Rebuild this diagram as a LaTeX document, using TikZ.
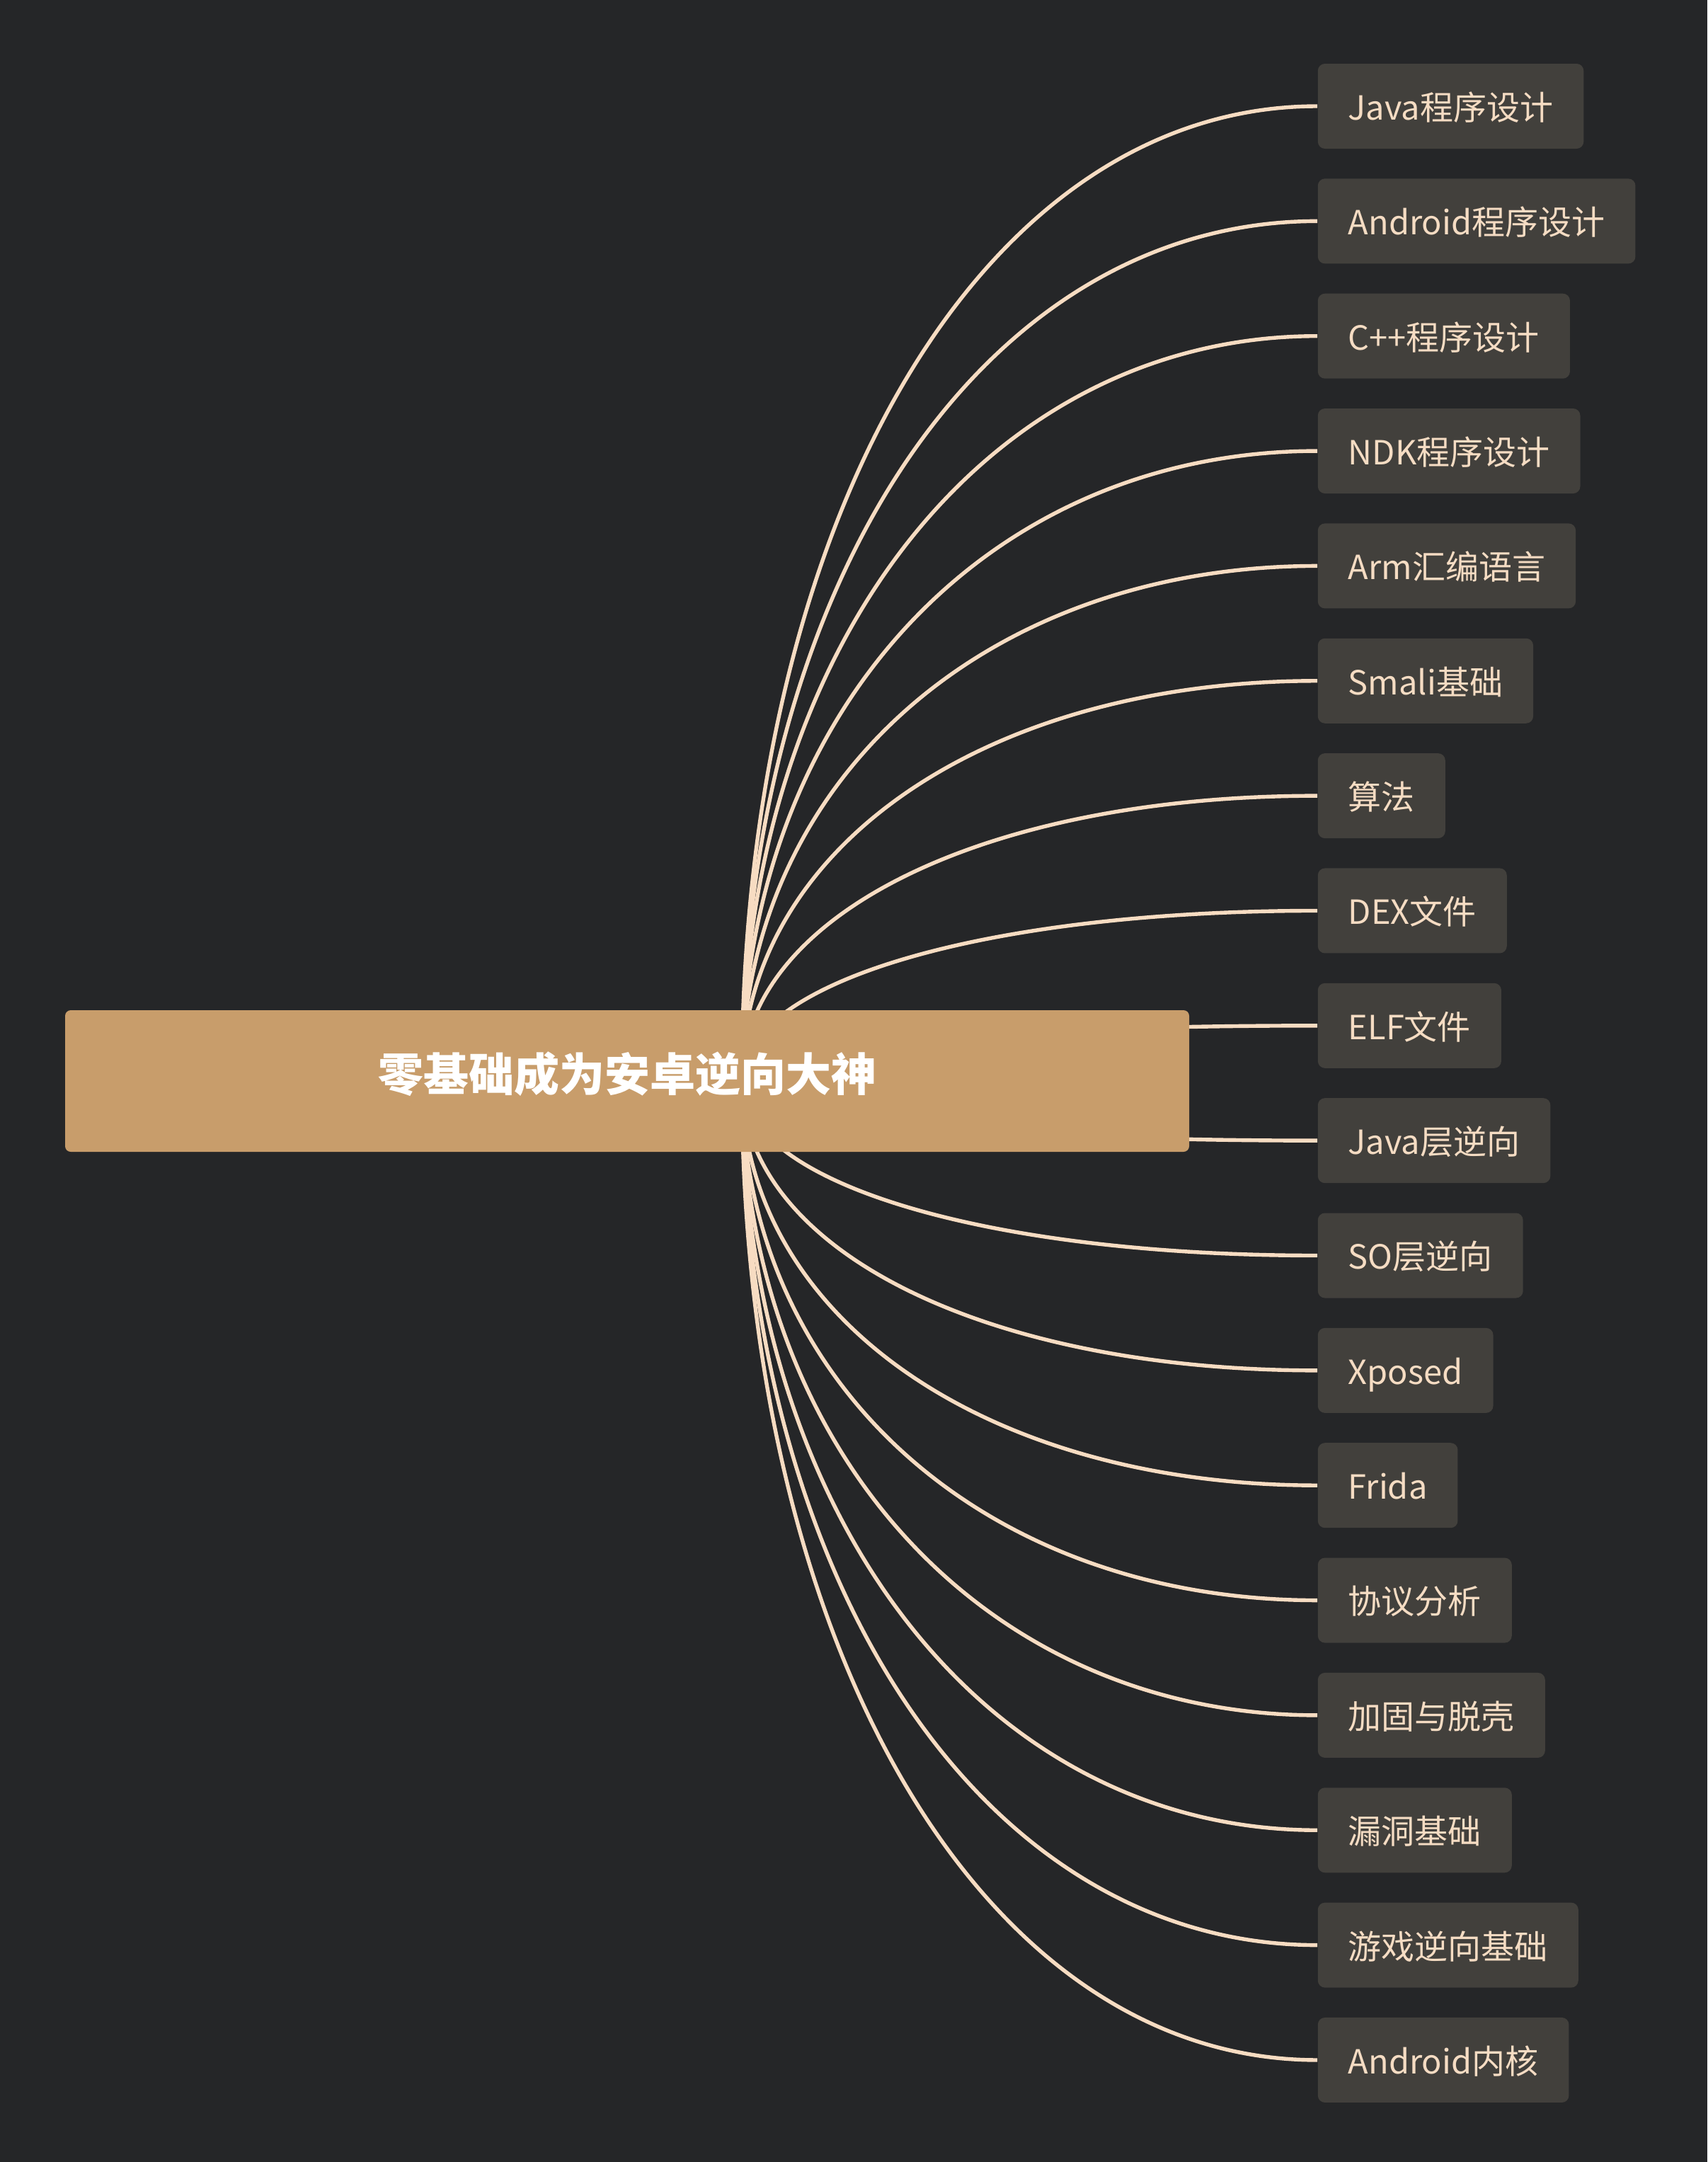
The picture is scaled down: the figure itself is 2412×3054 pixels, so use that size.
\documentclass[tikz,border=0pt]{standalone}
\usepackage{fontspec}
\setmainfont{Noto Sans CJK SC}
\usetikzlibrary{calc}
\pgfdeclarelayer{background}
\pgfsetlayers{background,main}
\definecolor{bgc}{HTML}{252628}
\definecolor{leafc}{HTML}{42403C}
\definecolor{leaftext}{HTML}{F5DCC3}
\definecolor{linec}{HTML}{F7DCC2}
\definecolor{rootc}{HTML}{C89D6B}
\tikzset{
  rootbox/.style={fill=rootc, rounded corners=2pt, minimum width=397pt, minimum height=50pt,
    text=white, font=\fontsize{16pt}{19pt}\selectfont\bfseries, inner sep=0pt,
    text height=0.86em, text depth=0.14em},
  leafbox/.style={fill=leafc, rounded corners=2.5pt, anchor=west, text=leaftext,
    font=\fontsize{11.75pt}{14pt}\selectfont, inner xsep=10.75pt, inner ysep=0pt,
    minimum height=30pt, text height=0.98em, text depth=0.01em},
  conn/.style={draw=linec, line width=1.35pt}
}
\begin{document}
\begin{tikzpicture}[x=0.25pt,y=-0.25pt]
\useasboundingbox (0,0) rectangle (2412,3054);
\node[rootbox] (root) at (886,1527) {零基础成为安卓逆向大神};
\coordinate (hub) at (1048,1527);
\foreach \t [count=\i from 0] in {Java程序设计,Android程序设计,C++程序设计,NDK程序设计,Arm汇编语言,Smali基础,算法,DEX文件,ELF文件,Java层逆向,SO层逆向,Xposed,Frida,协议分析,加固与脱壳,漏洞基础,游戏逆向基础,Android内核}{
  \node[leafbox] (l\i) at (1861,{150+162.35*\i}) {\t};
}
\begin{pgfonlayer}{background}
\fill[bgc] (0,0) rectangle (2412,3054);
\foreach \i in {0,...,17}{
  \pgfmathsetmacro\dy{1527-(150+162.35*\i)}
  \draw[conn] (hub) .. controls +(0,{-0.58*\dy}) and +(-471,0) .. (l\i.west);
}
\end{pgfonlayer}
\end{tikzpicture}
\end{document}
